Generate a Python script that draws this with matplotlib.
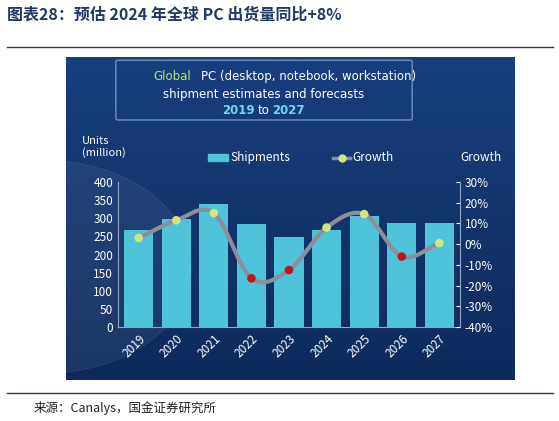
import matplotlib
matplotlib.use("Agg")
import matplotlib.pyplot as plt
import numpy as np
from matplotlib.patches import Rectangle, FancyBboxPatch, Circle

plt.rcParams['font.family'] = ['Noto Sans CJK SC', 'DejaVu Sans']

years = ['2019', '2020', '2021', '2022', '2023', '2024', '2025', '2026', '2027']
shipments = [267, 298, 340, 285, 248, 267, 305, 287, 288]
growth = [3, 11.5, 15, -16.5, -12.5, 8, 14.5, -6, 0.5]

fig = plt.figure(figsize=(5.59, 4.21), dpi=100)
fig.patch.set_facecolor('white')

fig.text(0.013, 0.965, '图表28：预估 2024 年全球 PC 出货量同比+8%', fontsize=11.5,
         fontweight='bold', style='italic', color='#1f3864', va='center')
fig.add_artist(plt.Line2D([0.013, 0.99], [0.888, 0.888], color='#1f3864', lw=1))
fig.add_artist(plt.Line2D([0.013, 0.99], [0.067, 0.067], color='#1f3864', lw=1))
fig.text(0.06, 0.03, '来源：Canalys，国金证券研究所', fontsize=9, color='#222222', va='center')

# dark panel
bg = fig.add_axes([66/559, 1-380/421, 449/559, 323/421])
bg.set_xlim(0, 1); bg.set_ylim(0, 1); bg.axis('off')
grad = np.linspace(0, 1, 256).reshape(-1, 1)
bg.imshow(grad, extent=[0, 1, 0, 1], aspect='auto', origin='lower',
          cmap=matplotlib.colors.LinearSegmentedColormap.from_list('g', ['#0d2a5c', '#173f7e']))
bg.add_patch(Circle((-0.05, 0.35), 0.33, color='white', alpha=0.06))
bg.add_patch(FancyBboxPatch((0.116, 0.81), 0.65, 0.175, boxstyle='round,pad=0.005',
                            fc='none', ec='#6f8fc0', lw=1))
bg.text(0.195, 0.94, 'Global', color='#b5e36a', fontsize=8.5, ha='left', va='center', family='DejaVu Sans')
bg.text(0.300, 0.94, 'PC (desktop, notebook, workstation)', color='white', fontsize=8.5, ha='left', va='center', family='DejaVu Sans')
bg.text(0.44, 0.885, 'shipment estimates and forecasts', color='white', fontsize=8.5, ha='center', va='center', family='DejaVu Sans')
bg.text(0.42, 0.835, '2019', color='#6fd6f0', fontsize=8.5, ha='right', va='center', fontweight='bold', family='DejaVu Sans')
bg.text(0.44, 0.835, 'to', color='white', fontsize=8.5, ha='center', va='center', family='DejaVu Sans')
bg.text(0.46, 0.835, '2027', color='#6fd6f0', fontsize=8.5, ha='left', va='center', fontweight='bold', family='DejaVu Sans')

ax = fig.add_axes([118/559, 1-327/421, 342/559, 145/421])
ax.patch.set_alpha(0)
x = np.arange(len(years))
ax.bar(x, shipments, width=0.78, color='#4fc3d9', zorder=2)
ax.set_ylim(0, 400)
ax.set_xlim(-0.55, len(years)-0.45)
ax.set_yticks(range(0, 401, 50))
ax.set_xticks(x)
ax.set_xticklabels(years, rotation=45, ha='right', rotation_mode='anchor')
for s in ['top', 'right']:
    ax.spines[s].set_visible(False)
for s in ['left', 'bottom']:
    ax.spines[s].set_color('#8fa6c8')
ax.tick_params(colors='white', labelsize=8.5, length=0)

ax2 = ax.twinx()
ax2.set_ylim(-40, 30)
ax2.set_yticks(range(-40, 31, 10))
ax2.set_yticklabels([f'{v}%' for v in range(-40, 31, 10)])
ax2.tick_params(colors='white', labelsize=8.5, length=3, direction='in')
for s in ['top', 'left', 'bottom']:
    ax2.spines[s].set_visible(False)
ax2.spines['right'].set_color('#8fa6c8')

# smooth curve through points (Catmull-Rom)
g = np.array(growth, dtype=float)
px = np.concatenate([[x[0]-(x[1]-x[0])], x, [x[-1]+1]])
py = np.concatenate([[2*g[0]-g[1]], g, [2*g[-1]-g[-2]]])
cx, cy = [], []
for i in range(1, len(px)-2):
    t = np.linspace(0, 1, 30)
    for arr, out in ((px, cx), (py, cy)):
        p0, p1, p2, p3 = arr[i-1], arr[i], arr[i+1], arr[i+2]
        out.extend(0.5*((2*p1) + (-p0+p2)*t + (2*p0-5*p1+4*p2-p3)*t**2 + (-p0+3*p1-3*p2+p3)*t**3))
ax2.plot(cx, cy, color='#8a8f99', lw=3, zorder=3)
cols = ['#d4e67a' if v >= 0 else '#c0141c' for v in growth]
ax2.scatter(x, growth, c=cols, s=38, zorder=4, edgecolors='none')

fig.text(82/559, 1-147/421, 'Units\n(million)', color='white', fontsize=8, va='center', linespacing=1.1)
fig.text(460/559, 1-158/421, 'Growth', color='white', fontsize=8.5, va='center')
fig.add_artist(Rectangle((208/559, 1-161/421), 20/559, 7/421, color='#4fc3d9'))
fig.text(230/559, 1-158/421, 'Shipments', color='white', fontsize=8.5, va='center')
fig.add_artist(plt.Line2D([333/559, 350/559], [1-158/421]*2, color='#8a8f99', lw=2.5))
fig.add_artist(plt.Line2D([342/559], [1-158/421], marker='o', color='#d4e67a', ms=5))
fig.text(352/559, 1-158/421, 'Growth', color='white', fontsize=8.5, va='center')

fig.savefig('out.png', dpi=100)
